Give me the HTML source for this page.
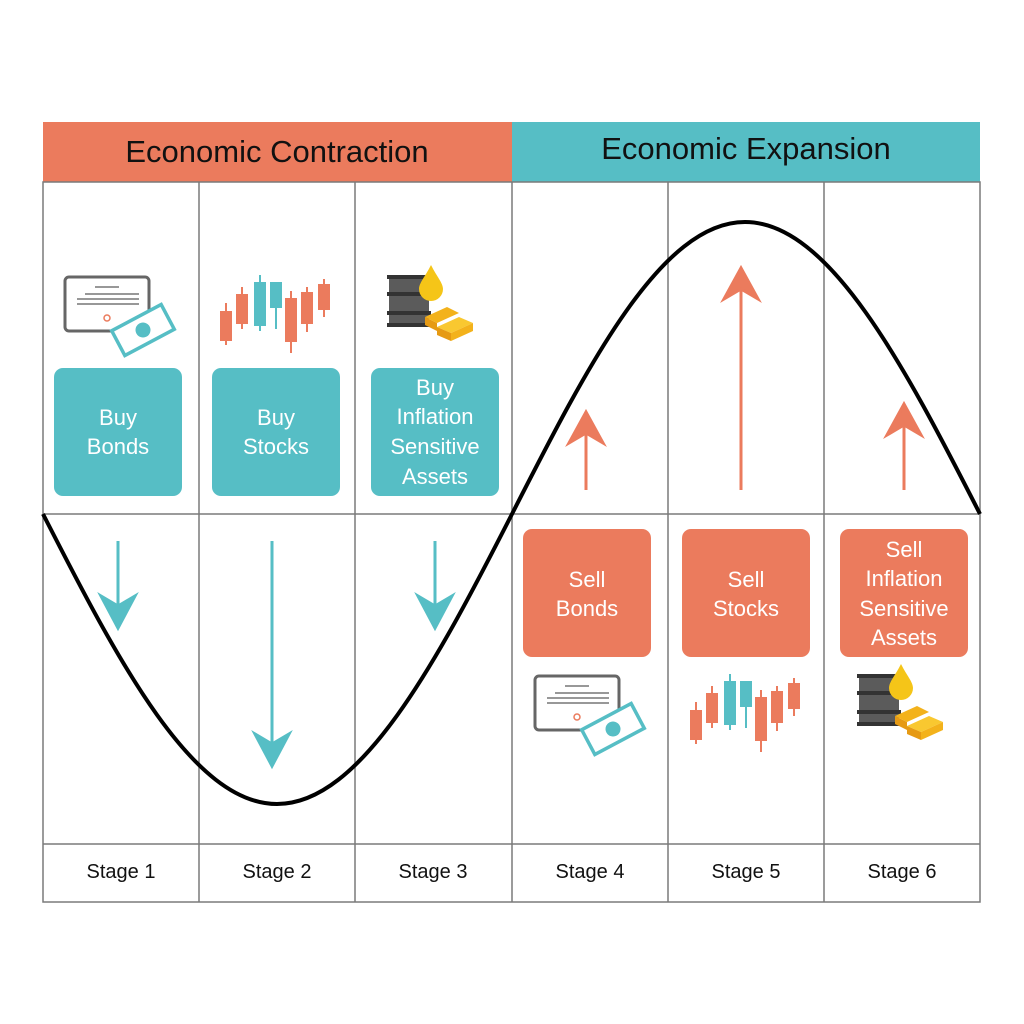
<!DOCTYPE html>
<html><head><style>body{margin:0;background:#fff}svg{display:block}text{font-family:"Liberation Sans",sans-serif}</style></head><body>
<svg width="1024" height="1024" viewBox="0 0 1024 1024" xmlns="http://www.w3.org/2000/svg">
<rect x="43" y="122" width="469" height="60" fill="#EB7B5D"/>
<rect x="512" y="122" width="468" height="60" fill="#56BEC5"/>
<text x="277" y="162" font-size="31" text-anchor="middle" fill="#111">Economic Contraction</text>
<text x="746" y="159" font-size="31" text-anchor="middle" fill="#111">Economic Expansion</text>
<g stroke="#7a7a7a" stroke-width="1.5" fill="none">
<rect x="43" y="182" width="937" height="720"/>
<line x1="199" y1="182" x2="199" y2="902"/><line x1="355" y1="182" x2="355" y2="902"/><line x1="512" y1="182" x2="512" y2="902"/><line x1="668" y1="182" x2="668" y2="902"/><line x1="824" y1="182" x2="824" y2="902"/>
<line x1="43" y1="514" x2="980" y2="514"/><line x1="43" y1="844" x2="980" y2="844"/>
</g>
<g font-size="20" text-anchor="middle" fill="#111">
<text x="121" y="878">Stage 1</text><text x="277" y="878">Stage 2</text><text x="433" y="878">Stage 3</text><text x="590" y="878">Stage 4</text><text x="746" y="878">Stage 5</text><text x="902" y="878">Stage 6</text>
</g>
<path d="M43 514 C119 663 193 804 277 804 C361 804 436 663 512 514 C588 365 661 222 745 222 C829 222 904 365 980 514" stroke="#000" stroke-width="4" fill="none"/>
<g fill="#56BEC5">
<rect x="54" y="368" width="128" height="128" rx="9"/><rect x="212" y="368" width="128" height="128" rx="9"/><rect x="371" y="368" width="128" height="128" rx="9"/>
</g>
<g fill="#EB7B5D">
<rect x="523" y="529" width="128" height="128" rx="9"/><rect x="682" y="529" width="128" height="128" rx="9"/><rect x="840" y="529" width="128" height="128" rx="9"/>
</g>
<g font-size="22" fill="#fff" text-anchor="middle">
<text x="118" y="425">Buy</text><text x="118" y="454">Bonds</text>
<text x="276" y="425">Buy</text><text x="276" y="454">Stocks</text>
<text x="435" y="395">Buy</text><text x="435" y="424">Inflation</text><text x="435" y="454">Sensitive</text><text x="435" y="484">Assets</text>
<text x="587" y="587">Sell</text><text x="587" y="616">Bonds</text>
<text x="746" y="587">Sell</text><text x="746" y="616">Stocks</text>
<text x="904" y="557">Sell</text><text x="904" y="586">Inflation</text><text x="904" y="616">Sensitive</text><text x="904" y="645">Assets</text>
</g>
<g stroke="#56BEC5" stroke-width="3" fill="#56BEC5">
<line x1="118" y1="541" x2="118" y2="610"/><path d="M101 596 L118 628 L135 596 L118 606Z"/>
<line x1="272" y1="541" x2="272" y2="748"/><path d="M255 734 L272 766 L289 734 L272 744Z"/>
<line x1="435" y1="541" x2="435" y2="610"/><path d="M418 596 L435 628 L452 596 L435 606Z"/>
</g>
<g stroke="#EB7B5D" stroke-width="3" fill="#EB7B5D">
<line x1="586" y1="490" x2="586" y2="428"/><path d="M569 443 L586 412 L603 443 L586 433Z"/>
<line x1="741" y1="490" x2="741" y2="284"/><path d="M724 299 L741 268 L758 299 L741 289Z"/>
<line x1="904" y1="490" x2="904" y2="420"/><path d="M887 435 L904 404 L921 435 L904 425Z"/>
</g>
<defs>
<g id="bond">
<rect x="0" y="0" width="84" height="54" rx="4" fill="#fff" stroke="#666" stroke-width="3"/>
<line x1="30" y1="10" x2="54" y2="10" stroke="#777" stroke-width="1.5"/>
<line x1="20" y1="17" x2="74" y2="17" stroke="#777" stroke-width="1.5"/>
<line x1="12" y1="22" x2="74" y2="22" stroke="#777" stroke-width="1.5"/>
<line x1="12" y1="27" x2="74" y2="27" stroke="#777" stroke-width="1.5"/>
<circle cx="42" cy="41" r="3" fill="none" stroke="#EB7B5D" stroke-width="1.5"/>
<g transform="translate(78 53) rotate(-28)"><rect x="-28" y="-14" width="56" height="28" fill="#fff" stroke="#56BEC5" stroke-width="3.5"/><circle cx="0" cy="0" r="7.5" fill="#56BEC5"/></g>
</g>
<g id="candles" stroke-width="2">
<g stroke="#EB7B5D" fill="#EB7B5D"><line x1="6" y1="28" x2="6" y2="70"/><rect x="1" y="37" width="10" height="28"/>
<line x1="22" y1="12" x2="22" y2="54"/><rect x="17" y="20" width="10" height="28"/>
<line x1="71" y1="16" x2="71" y2="78"/><rect x="66" y="24" width="10" height="42"/>
<line x1="87" y1="12" x2="87" y2="57"/><rect x="82" y="18" width="10" height="30"/>
<line x1="104" y1="4" x2="104" y2="42"/><rect x="99" y="10" width="10" height="24"/></g>
<g stroke="#56BEC5" fill="#56BEC5"><line x1="40" y1="0" x2="40" y2="56"/><rect x="35" y="8" width="10" height="42"/>
<line x1="56" y1="8" x2="56" y2="54"/><rect x="51" y="8" width="10" height="24"/></g>
</g>
<g id="oil">
<rect x="0" y="10" width="40" height="52" rx="3" fill="#5b5b5b"/>
<rect x="-2" y="10" width="44" height="4" fill="#333"/><rect x="-2" y="27" width="44" height="4" fill="#333"/><rect x="-2" y="46" width="44" height="4" fill="#333"/><rect x="-2" y="58" width="44" height="4" fill="#333"/>
<path d="M42 0 C36 12 30 18 30 24 A12 12 0 0 0 54 24 C54 18 48 12 42 0Z" fill="#F5C518"/>
<path d="M36 52 L58 42 L70 48 L48 58Z" fill="#F3B21B"/><path d="M36 52 L48 58 L48 66 L36 60Z" fill="#E69A14"/>
<path d="M48 62 L70 52 L84 58 L62 68Z" fill="#F9C830"/><path d="M48 62 L62 68 L62 76 L48 70Z" fill="#E69A14"/><path d="M62 68 L84 58 L84 66 L62 76Z" fill="#F3B21B"/>
</g>
</defs>
<use href="#bond" x="65" y="277"/><use href="#candles" x="220" y="275"/><use href="#oil" x="389" y="265"/>
<use href="#bond" x="535" y="676"/><use href="#candles" x="690" y="674"/><use href="#oil" x="859" y="664"/>
</svg>
</body></html>
